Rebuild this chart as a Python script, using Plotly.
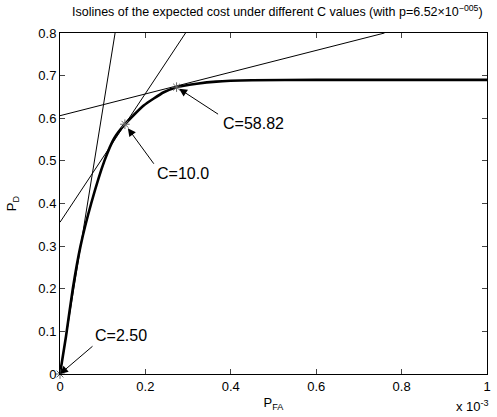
import plotly.graph_objects as go

# ROC curve (P_FA in units of 1e-3)
roc_pfa = [0.0, 0.014, 0.03, 0.048, 0.073, 0.104, 0.127, 0.152, 0.196, 0.243, 0.273, 0.32, 0.366, 0.45, 0.6, 0.8, 1.0]
roc_pd = [0.0, 0.088, 0.2, 0.3, 0.4, 0.5, 0.553, 0.586, 0.63, 0.661, 0.673, 0.681, 0.686, 0.689, 0.69, 0.69, 0.69]

# isolines (endpoints)
iso_x0 = [0.0, 0.0, 0.0]
iso_y0 = [0.0, 0.356, 0.606]
iso_x1 = [0.129, 0.294, 0.76]
iso_y1 = [0.8, 0.8, 0.8]

# tangent points
pt_x = [0.0, 0.152, 0.273]
pt_y = [0.0, 0.586, 0.673]
pt_labels = ["C=2.50", "C=10.0", "C=58.82"]
label_x = [0.078, 0.222, 0.377]
label_y = [0.090, 0.471, 0.588]

xticks = [0, 0.2, 0.4, 0.6, 0.8, 1.0]
xticktext = ["0", "0.2", "0.4", "0.6", "0.8", "1"]
yticks = [0, 0.1, 0.2, 0.3, 0.4, 0.5, 0.6, 0.7, 0.8]
yticktext = ["0", "0.1", "0.2", "0.3", "0.4", "0.5", "0.6", "0.7", "0.8"]

FONT = "Liberation Sans, Arial, sans-serif"

fig = go.Figure()
for i in range(len(iso_x0)):
    fig.add_trace(go.Scatter(x=[iso_x0[i], iso_x1[i]], y=[iso_y0[i], iso_y1[i]], mode="lines",
                             line=dict(color="black", width=1), showlegend=False, hoverinfo="skip"))
fig.add_trace(go.Scatter(x=roc_pfa, y=roc_pd, mode="lines", line=dict(color="black", width=2.6, shape="spline", smoothing=0.5),
                         showlegend=False))
fig.add_trace(go.Scatter(x=pt_x, y=pt_y, mode="markers", cliponaxis=False,
                         marker=dict(symbol="asterisk-open", size=8, color="#666666", line=dict(color="#666666", width=1)),
                         showlegend=False))

# arrows (tail offsets in pixels)
arrow_ax = [34, 30, 43]
arrow_ay = [-29, 41, 28]
arrow_standoff = [0, 5, 3]
for i in range(3):
    fig.add_annotation(x=pt_x[i], y=pt_y[i], ax=arrow_ax[i], ay=arrow_ay[i], text="",
                       showarrow=True, arrowhead=2, arrowsize=1.6, arrowwidth=1, arrowcolor="black",
                       standoff=arrow_standoff[i])
    fig.add_annotation(x=label_x[i], y=label_y[i], text=pt_labels[i], showarrow=False,
                       xanchor="left", yanchor="middle", font=dict(size=16, color="black", family=FONT))

fig.add_annotation(xref="paper", yref="paper", x=1.0, y=-0.095, xanchor="right", yanchor="middle", xshift=4,
                   text="x 10<sup>-3</sup>", showarrow=False, font=dict(size=13, color="black", family=FONT))

fig.update_layout(
    width=497, height=417,
    margin=dict(l=60, r=6, t=33, b=43),
    plot_bgcolor="white", paper_bgcolor="white",
    font=dict(family=FONT, size=13, color="black"),
    title=dict(text="Isolines of the expected cost under different C values (with p=6.52×10<sup>−005</sup>)",
               x=0.558, xanchor="center", y=0.972, yanchor="middle", font=dict(size=12.5)),
    xaxis=dict(range=[0, 1], tickvals=xticks, ticktext=xticktext, ticks="inside", ticklen=5,
               showline=True, linecolor="black", linewidth=1, mirror="ticks", showgrid=False, zeroline=False,
               tickfont=dict(size=13),
               title=dict(text="P<sub>FA</sub>", standoff=5, font=dict(size=13))),
    yaxis=dict(range=[0, 0.8], tickvals=yticks, ticktext=yticktext, ticks="inside", ticklen=5,
               showline=True, linecolor="black", linewidth=1, mirror="ticks", showgrid=False, zeroline=False,
               tickfont=dict(size=13),
               title=dict(text="P<sub>D</sub>", standoff=18, font=dict(size=13))),
)
fig.write_html("out.html")
